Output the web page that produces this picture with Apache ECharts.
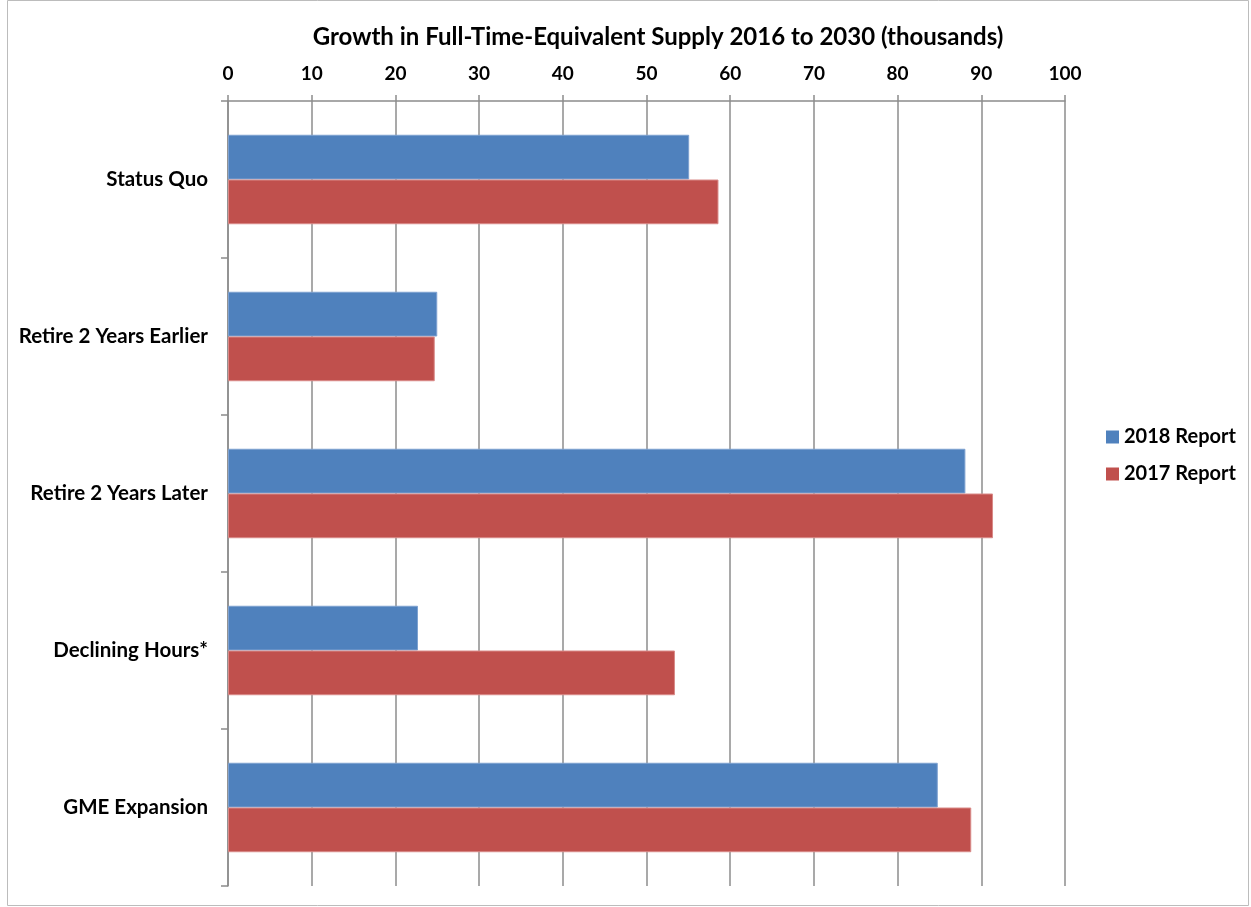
<!DOCTYPE html>
<html><head><meta charset="utf-8">
<script src="https://cdn.jsdelivr.net/npm/echarts@6/dist/echarts.min.js"></script>
<style>html,body{margin:0;padding:0;background:#fff}#c{width:1251px;height:907px}</style>
</head><body><div id="c"></div>
<script>
const categories = ['Status Quo','Retire 2 Years Earlier','Retire 2 Years Later','Declining Hours*','GME Expansion'];
const report2018 = [55.1, 25.0, 88.1, 22.7, 84.8];
const report2017 = [58.6, 24.7, 91.4, 53.4, 88.8];
const xTicks = [0,10,20,30,40,50,60,70,80,90,100];

const FONT = 'Lato';
const chart = echarts.init(document.getElementById('c'), null, {renderer:'canvas'});
chart.setOption({
  animation:false,
  backgroundColor:'#fff',
  title:{text:'Growth in Full-Time-Equivalent Supply 2016 to 2030 (thousands)',left:653,textAlign:'center',top:20,
    textStyle:{fontFamily:FONT,fontWeight:'bold',fontSize:24,color:'#000'}},
  legend:{orient:'vertical',left:1101,top:422,itemWidth:13,itemHeight:13,itemGap:17,
    icon:'rect',textStyle:{fontFamily:FONT,fontWeight:'bold',fontSize:20,color:'#000'},
    data:[{name:'2018 Report',itemStyle:{borderWidth:0}},{name:'2017 Report',itemStyle:{borderWidth:0}}]},
  grid:{left:228,right:186,top:101,bottom:21,containLabel:false},
  xAxis:{type:'value',position:'top',min:xTicks[0],max:xTicks[xTicks.length-1],interval:10,
    axisLine:{show:true,lineStyle:{color:'#8c8c8c',width:1.5}},
    axisTick:{show:true,length:6,lineStyle:{color:'#8c8c8c',width:1.5}},
    splitLine:{show:true,lineStyle:{color:'#8c8c8c',width:1.5}},
    axisLabel:{margin:18,fontFamily:FONT,fontWeight:'bold',fontSize:19,color:'#000'}},
  yAxis:{type:'category',data:categories,inverse:true,
    axisLine:{show:true,lineStyle:{color:'#8c8c8c',width:1.5}},
    axisTick:{show:true,length:7,inside:false,lineStyle:{color:'#8c8c8c',width:1.5}},
    axisLabel:{margin:20,fontFamily:FONT,fontWeight:'bold',fontSize:20.5,color:'#000'}},
  series:[
    {name:'2018 Report',type:'bar',data:report2018,barGap:'0%',barCategoryGap:'43%',
      itemStyle:{color:'#4f81bd',borderColor:'#7ea1d0',borderWidth:1}},
    {name:'2017 Report',type:'bar',data:report2017,barGap:'0%',barCategoryGap:'43%',
      itemStyle:{color:'#c0504d',borderColor:'#d98a88',borderWidth:1}}
  ],
  graphic:[{type:'rect',shape:{x:7.5,y:0.5,width:1241,height:905},style:{fill:null,stroke:'#bcbcbc',lineWidth:1},silent:true}]
});
</script></body></html>
